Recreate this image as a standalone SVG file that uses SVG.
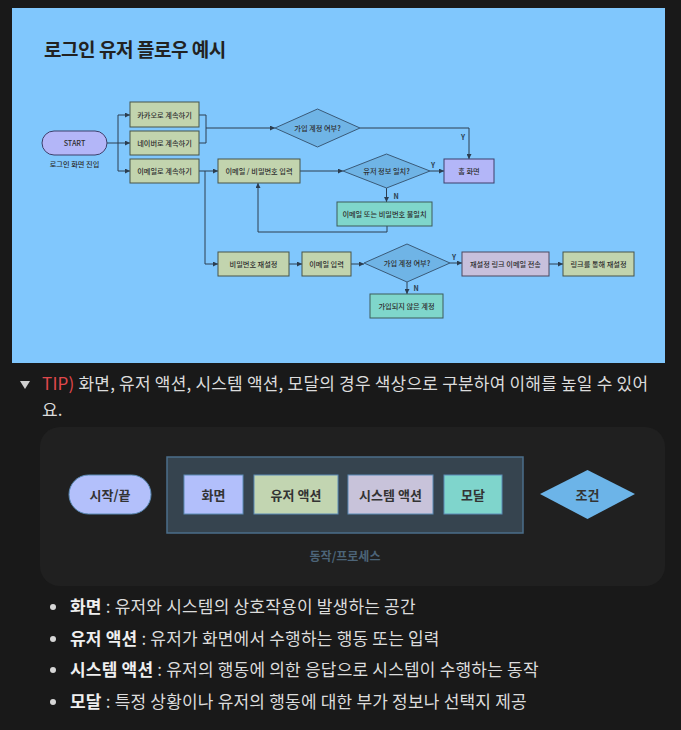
<svg xmlns="http://www.w3.org/2000/svg" width="681" height="730" viewBox="0 0 681 730">
<defs>
<marker id="ah" markerUnits="userSpaceOnUse" markerWidth="5" markerHeight="5" refX="5" refY="2.5" orient="auto">
<path d="M0,0 L5,2.5 L0,5 z" fill="#2c3e50"/>
</marker>
<style>
text{font-family:"Noto Sans CJK KR","Noto Sans",sans-serif;}
.fl{font-size:7.2px;font-weight:500;fill:#2e2e2e;text-anchor:middle;dominant-baseline:central;}
.act{fill:#c2d4ae;stroke:#46554a;stroke-width:1;}
.scr{fill:#b3b6f8;stroke:#3c3f6a;stroke-width:1;}
.sys{fill:#c7c0dc;stroke:#4a4860;stroke-width:1;}
.mod{fill:#7fd6cb;stroke:#3d5d5a;stroke-width:1;}
.cond{fill:#6fb4e6;stroke:#3a5a78;stroke-width:1;}
.ln{fill:none;stroke:#2c3e50;stroke-width:1;}
.yn{font-size:7px;font-weight:bold;fill:#2c3e50;text-anchor:middle;dominant-baseline:central;}
.lg{font-size:13px;font-weight:bold;fill:#333;text-anchor:middle;dominant-baseline:central;}
.lgb{stroke:#5a8ab5;stroke-width:1;}
.body{font-size:17px;letter-spacing:0.2px;fill:#dcdcdc;}
.b{font-weight:bold;fill:#efefef;}
</style>
</defs>
<rect x="0" y="0" width="681" height="730" fill="#191919"/>
<rect x="12" y="8" width="653" height="355" fill="#80c7fd"/>
<text x="44" y="57" font-size="19" font-weight="bold" fill="#222" letter-spacing="-0.45">로그인 유저 플로우 예시</text>

<g id="connectors">
<path class="ln" d="M107,143 H118 M118,115 V171"/>
<path class="ln" d="M118,115 H130" marker-end="url(#ah)"/>
<path class="ln" d="M118,143 H130" marker-end="url(#ah)"/>
<path class="ln" d="M118,171 H130" marker-end="url(#ah)"/>
<path class="ln" d="M199,115 H206 V143 H199"/>
<path class="ln" d="M206,128 H275" marker-end="url(#ah)"/>
<path class="ln" d="M360,128 H469 V159" marker-end="url(#ah)"/>
<path class="ln" d="M199,171 H218" marker-end="url(#ah)"/>
<path class="ln" d="M205,171 V264 H218" marker-end="url(#ah)"/>
<path class="ln" d="M300,171 H343" marker-end="url(#ah)"/>
<path class="ln" d="M430,171 H444" marker-end="url(#ah)"/>
<path class="ln" d="M386.5,188 V202" marker-end="url(#ah)"/>
<path class="ln" d="M387,226 V232 H258 V183" marker-end="url(#ah)"/>
<path class="ln" d="M289,264 H302" marker-end="url(#ah)"/>
<path class="ln" d="M351,264 H364" marker-end="url(#ah)"/>
<path class="ln" d="M450,263 H462" marker-end="url(#ah)"/>
<path class="ln" d="M549,264 H563" marker-end="url(#ah)"/>
<path class="ln" d="M407,282 V294" marker-end="url(#ah)"/>
<text class="yn" x="463" y="137">Y</text>
<text class="yn" x="433" y="165">Y</text>
<text class="yn" x="396" y="196">N</text>
<text class="yn" x="454" y="257">Y</text>
<text class="yn" x="416" y="288">N</text>
</g>

<g id="start">
<rect x="42" y="131" width="65" height="24" rx="12" class="scr"/>
<text class="fl" x="74.5" y="143" font-weight="bold" font-size="7.8">START</text>
<text class="fl" x="74.5" y="164" font-size="5.5">로그인 화면 진입</text>
</g>
<g id="kakao"><rect x="130" y="102" width="69" height="25" class="act"/><text class="fl" x="164.5" y="114.5">카카오로 계속하기</text></g>
<g id="naver"><rect x="130" y="131" width="69" height="24" class="act"/><text class="fl" x="164.5" y="143">네이버로 계속하기</text></g>
<g id="email-login"><rect x="130" y="159" width="69" height="24" class="act"/><text class="fl" x="164.5" y="171">이메일로 계속하기</text></g>
<g id="cond-account1"><polygon points="275,128 317.5,109 360,128 317.5,147" class="cond"/><text class="fl" x="317.5" y="128">가입 계정 여부?</text></g>
<g id="home"><rect x="444" y="159" width="50" height="24" class="scr"/><text class="fl" x="469" y="171">홈 화면</text></g>
<g id="input"><rect x="218" y="159" width="82" height="24" class="act"/><text class="fl" x="259" y="171">이메일 / 비밀번호 입력</text></g>
<g id="cond-match"><polygon points="343,171 386.5,154 430,171 386.5,188" class="cond"/><text class="fl" x="386.5" y="171">유저 정보 일치?</text></g>
<g id="mismatch"><rect x="337" y="202" width="95" height="24" class="mod"/><text class="fl" x="384.5" y="214">이메일 또는 비밀번호 불일치</text></g>
<g id="reset"><rect x="218" y="252" width="71" height="24" class="act"/><text class="fl" x="253.5" y="264">비밀번호 재설정</text></g>
<g id="email-input"><rect x="302" y="252" width="49" height="24" class="act"/><text class="fl" x="326.5" y="264">이메일 입력</text></g>
<g id="cond-account2"><polygon points="364,263 407,244 450,263 407,282" class="cond"/><text class="fl" x="407" y="263">가입 계정 여부?</text></g>
<g id="send-link"><rect x="462" y="252" width="87" height="24" class="sys"/><text class="fl" x="505.5" y="264">재설정 링크 이메일 전송</text></g>
<g id="reset-link"><rect x="563" y="252" width="71" height="24" class="act"/><text class="fl" x="598.5" y="264">링크를 통해 재설정</text></g>
<g id="not-registered"><rect x="370" y="294" width="73" height="24" class="mod"/><text class="fl" x="406.5" y="306">가입되지 않은 계정</text></g>

<polygon points="20,381 30,381 25,389" fill="#cfcfcf"/>
<text class="body" x="42" y="390"><tspan fill="#e0484c">TIP)</tspan> 화면, 유저 액션, 시스템 액션, 모달의 경우 색상으로 구분하여 이해를 높일 수 있어</text>
<text class="body" x="42" y="416">요.</text>

<g id="legend">
<rect x="40" y="427" width="625" height="159" rx="20" fill="#202020"/>
<rect x="69" y="475" width="82" height="39" rx="19.5" fill="#b3c0fb" class="lgb"/>
<text class="lg" x="110" y="494.5">시작/끝</text>
<rect x="167" y="457" width="356" height="76" fill="#36444f" stroke="#4b6e8a" stroke-width="1.5"/>
<rect x="184" y="475" width="59" height="39" fill="#b2bffb" class="lgb"/>
<text class="lg" x="213.5" y="494.5">화면</text>
<rect x="254" y="475" width="84" height="39" fill="#c2d5b1" class="lgb"/>
<text class="lg" x="296" y="494.5">유저 액션</text>
<rect x="348" y="475" width="85" height="39" fill="#c8c3da" class="lgb"/>
<text class="lg" x="390.5" y="494.5">시스템 액션</text>
<rect x="444" y="475" width="58" height="39" fill="#7fd5cc" class="lgb"/>
<text class="lg" x="473" y="494.5">모달</text>
<polygon points="540,494 587.5,470 635,494 587.5,519" fill="#6cb4e8"/>
<text class="lg" x="587.5" y="494.5">조건</text>
<text x="345" y="555" font-size="12" font-weight="bold" fill="#4c6478" text-anchor="middle" dominant-baseline="central">동작/프로세스</text>
</g>

<g id="bullets">
<circle cx="53" cy="607" r="3" fill="#d6d6d6"/>
<circle cx="53" cy="639" r="3" fill="#d6d6d6"/>
<circle cx="53" cy="670" r="3" fill="#d6d6d6"/>
<circle cx="53" cy="702" r="3" fill="#d6d6d6"/>
<text class="body" x="70" y="613"><tspan class="b">화면</tspan> : 유저와 시스템의 상호작용이 발생하는 공간</text>
<text class="body" x="70" y="645"><tspan class="b">유저 액션</tspan> : 유저가 화면에서 수행하는 행동 또는 입력</text>
<text class="body" x="70" y="676"><tspan class="b">시스템 액션</tspan> : 유저의 행동에 의한 응답으로 시스템이 수행하는 동작</text>
<text class="body" x="70" y="708"><tspan class="b">모달</tspan> : 특정 상황이나 유저의 행동에 대한 부가 정보나 선택지 제공</text>
</g>
</svg>
